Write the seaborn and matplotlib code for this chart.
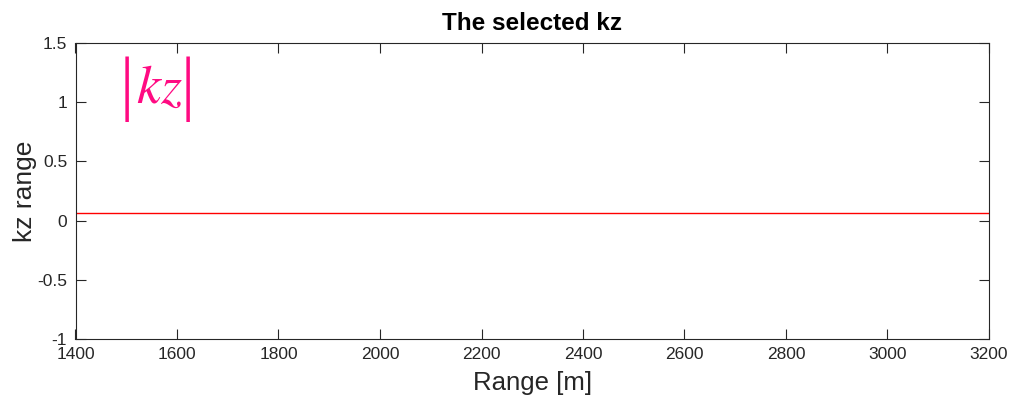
import matplotlib
matplotlib.use("Agg")
import matplotlib.pyplot as plt
import seaborn as sns
import numpy as np
import pandas as pd

range_m = [1400, 1600, 1800, 2000, 2200, 2400, 2600, 2800, 3000, 3200]
kz_selected = [0.065] * len(range_m)
x_ticks = [1400, 1600, 1800, 2000, 2200, 2400, 2600, 2800, 3000, 3200]
y_ticks = [-1, -0.5, 0, 0.5, 1, 1.5]
y_tick_labels = ["-1", "-0.5", "0", "0.5", "1", "1.5"]

sns.set_style("white")
plt.rcParams['font.family'] = ['Liberation Sans', 'DejaVu Sans']

df = pd.DataFrame({"range": range_m, "kz": kz_selected})

fig = plt.figure(figsize=(10.10, 4.07), dpi=100)
ax = fig.add_axes([75.5/1010, 1 - 339/407, (989 - 75.5)/1010, (339 - 43)/407])
sns.lineplot(data=df, x="range", y="kz", ax=ax, color="#ff0000", linewidth=1.0)

ax.set_xlim(1400, 3200)
ax.set_ylim(-1, 1.5)
ax.set_xticks(x_ticks)
ax.set_xticklabels([str(t) for t in x_ticks])
ax.set_yticks(y_ticks)
ax.set_yticklabels(y_tick_labels)
ax.tick_params(direction="in", length=7.5, width=0.8, colors="#262626", labelsize=12.5,
               top=True, right=True, bottom=True, left=True, labelcolor="#262626", pad=6)
for s in ax.spines.values():
    s.set_visible(True)
    s.set_color("#262626")
    s.set_linewidth(0.8)

ax.set_xlabel("Range [m]", fontsize=18.5, color="#262626", labelpad=6)
ax.set_ylabel("kz range", fontsize=19, color="#262626", labelpad=0)
ax.set_title("The selected kz", fontsize=17.5, fontweight="bold", color="black", pad=9)

mag = "#ff0a82"
ax.text(1566, 1.115, r"$kz$", fontsize=39, color=mag, ha="center", va="center",
        math_fontfamily="stix")
ax.text(1516, 1.11, "|", fontsize=51, color=mag, ha="right", va="center",
        family="Liberation Serif")
ax.text(1608, 1.11, "|", fontsize=51, color=mag, ha="left", va="center",
        family="Liberation Serif")

fig.savefig("out.png", dpi=100)
